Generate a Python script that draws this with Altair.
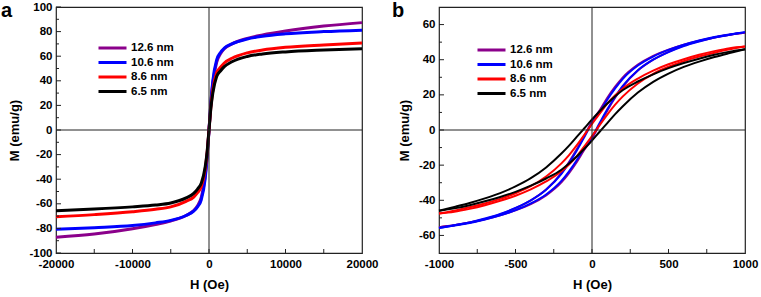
import altair as alt
import pandas as pd

FONT = "Liberation Sans"
SERIES = ["12.6 nm", "10.6 nm", "8.6 nm", "6.5 nm"]
COLORS = ["#8B008B", "#0000FF", "#FF0000", "#000000"]

# ---------------- panel a data ----------------
H_A = [-20000, -15000, -10000, -7000, -5000, -3000, -2000, -1500, -1000, -500, -250, 0,
       250, 500, 1000, 1500, 2000, 3000, 5000, 7000, 10000, 15000, 20000]
M_A_126 = [-87.2, -84.6, -80.3, -76.8, -74.0, -69.5, -65.5, -61.5, -54.5, -37.5, -21.5, 0,
           22, 38, 55, 62, 66, 70, 74.5, 77.3, 80.5, 84.5, 87.3]
M_A_106 = [-80.7, -79.4, -77.7, -75.5, -73.5, -69.5, -66.0, -62.5, -56.5, -39.5, -22.5, 0,
           23, 40, 57, 63, 66.5, 70, 74, 76.2, 78.2, 80, 81.2]
M_A_86 = [-70.5, -68.8, -66.5, -64.5, -62.5, -58.0, -54.5, -51.0, -46.0, -32.0, -19.0, 0,
          19, 32.5, 46.5, 51, 54.5, 58.3, 62.7, 65, 67.2, 69.2, 70.8]
M_A_65 = [-65.6, -64.3, -62.5, -61.0, -59.3, -55.2, -51.5, -48.0, -43.0, -30.0, -18.0, 0,
          18, 30, 43.5, 48, 51.5, 55.5, 59.8, 61.8, 63.5, 65, 66]

# ---------------- panel b data (descending / ascending branches) ----------------
H_B = [-1000, -900, -800, -700, -600, -500, -400, -300, -200, -150, -100, -50, 0,
       50, 100, 150, 200, 300, 400, 500, 600, 700, 800, 900, 1000]
B126_DOWN = [-55.3, -54.2, -52.7, -50.6, -48.0, -44.5, -40.0, -33.8, -24.5, -18.2, -11.0, -3.2, 4.8,
             11.2, 18.3, 24.5, 29.8, 37.2, 42.2, 45.7, 48.5, 50.8, 52.7, 54.2, 55.3]
B126_UP = [-55.3, -54.2, -52.7, -50.8, -48.5, -45.7, -42.2, -37.2, -29.8, -24.5, -18.3, -11.2, -4.8,
           3.2, 11.0, 18.2, 24.5, 33.8, 40.0, 44.5, 48.0, 50.6, 52.7, 54.2, 55.3]
B106_DOWN = [-55.8, -54.2, -52.6, -50.4, -47.8, -44.3, -40.0, -34.0, -25.0, -18.8, -11.8, -4.0, 4.0,
             10.0, 17.2, 23.5, 29.0, 36.7, 41.8, 45.6, 48.6, 51.0, 53.0, 54.4, 55.8]
B106_UP = [-55.8, -54.4, -53.0, -51.0, -48.6, -45.6, -41.8, -36.7, -29.0, -23.5, -17.2, -10.0, -4.0,
           4.0, 11.8, 18.8, 25.0, 34.0, 40.0, 44.3, 47.8, 50.4, 52.6, 54.2, 55.8]
B86_DOWN = [-47.5, -45.9, -44.0, -41.8, -39.2, -36.0, -32.0, -26.5, -19.0, -14.3, -8.8, -2.8, 3.5,
            9.3, 15.0, 19.6, 23.5, 29.3, 33.8, 37.4, 40.3, 42.8, 44.9, 46.6, 47.5]
B86_UP = [-47.5, -46.6, -44.9, -42.8, -40.3, -37.4, -33.8, -29.3, -23.5, -19.6, -15.0, -9.3, -3.5,
          2.8, 8.8, 14.3, 19.0, 26.5, 32.0, 36.0, 39.2, 41.8, 44.0, 45.9, 47.5]
B65_DOWN = [-46.0, -43.8, -41.5, -38.9, -35.9, -32.1, -27.4, -21.3, -13.4, -8.9, -3.9, 1.0, 6.0,
            10.7, 15.1, 19.1, 22.6, 27.6, 31.7, 35.2, 38.1, 40.6, 42.8, 44.6, 46.0]
B65_UP = [-46.0, -44.6, -42.8, -40.6, -38.1, -35.2, -31.7, -27.6, -22.6, -19.1, -15.1, -10.7, -6.0,
          -1.0, 3.9, 8.9, 13.4, 21.3, 27.4, 32.1, 35.9, 38.9, 41.5, 43.8, 46.0]

# ticks / labels
XA_LABELS = [-20000, -10000, 0, 10000, 20000]
XA_TICKS = [-15000, -10000, -5000, 0, 5000, 10000, 15000]
YA_LABELS = [-100, -80, -60, -40, -20, 0, 20, 40, 60, 80, 100]
YA_MINOR = [-90, -70, -50, -30, -10, 10, 30, 50, 70, 90]
XB_LABELS = [-1000, -500, 0, 500, 1000]
XB_TICKS = [-750, -500, -250, 0, 250, 500, 750]
YB_LABELS = [-60, -40, -20, 0, 20, 40, 60]
YB_MINOR = [-50, -30, -10, 10, 30, 50]

W, HGT = 306, 246

rows = []
for name, vals in zip(SERIES, [M_A_126, M_A_106, M_A_86, M_A_65]):
    for h, m in zip(H_A, vals):
        rows.append({"H": h, "M": m, "series": name, "branch": name + "d"})
df_a = pd.DataFrame(rows)

rows = []
for name, down, up in zip(SERIES, [B126_DOWN, B106_DOWN, B86_DOWN, B65_DOWN],
                          [B126_UP, B106_UP, B86_UP, B65_UP]):
    for h, m in zip(H_B, down):
        rows.append({"H": h, "M": m, "series": name, "branch": name + "d"})
    for h, m in zip(H_B, up):
        rows.append({"H": h, "M": m, "series": name, "branch": name + "u"})
df_b = pd.DataFrame(rows)

LBL = "'' + datum.value"


def panel(df, xdom, ydom, xlabels, xticks, ylabels, yminor, letter, lw, legx, legy, letter_x):
    xs = alt.Scale(domain=xdom, nice=False, zero=False)
    ys = alt.Scale(domain=ydom, nice=False, zero=False)
    xaxis = alt.Axis(values=xlabels, labelExpr=LBL, ticks=False, domain=False, grid=False,
                     labelFont=FONT, labelFontSize=11.5, labelFontWeight="bold", labelColor="#000",
                     labelPadding=5, labelOverlap=False, title="H (Oe)", titleFont=FONT,
                     titleFontSize=13, titleFontWeight="bold", titleColor="#000",
                     titlePadding=9, labelFlush=False)
    yaxis = alt.Axis(values=ylabels, labelExpr=LBL, ticks=False, domain=False, grid=False,
                     labelFont=FONT, labelFontSize=11.5, labelFontWeight="bold", labelColor="#000",
                     labelPadding=4, labelOverlap=False, title="M (emu/g)", titleFont=FONT,
                     titleFontSize=13, titleFontWeight="bold", titleColor="#000",
                     titlePadding=7, labelFlush=False)
    lines = alt.Chart(df).mark_line(strokeWidth=lw, interpolate="monotone").encode(
        x=alt.X("H:Q", scale=xs, axis=xaxis),
        y=alt.Y("M:Q", scale=ys, axis=yaxis),
        color=alt.Color("series:N", scale=alt.Scale(domain=SERIES, range=COLORS),
                        legend=alt.Legend(orient="none", legendX=legx, legendY=legy, title=None,
                                          symbolType="stroke", symbolSize=784,
                                          symbolStrokeWidth=3, labelFont=FONT,
                                          labelFontSize=11.5, labelFontWeight="bold",
                                          labelColor="#000", clipHeight=14, rowPadding=0.5,
                                          labelOffset=3, padding=0)),
        detail="branch:N",
        order=alt.Order("H:Q"),
    )
    zx = alt.Chart(pd.DataFrame({"H": [0]})).mark_rule(color="#222", strokeWidth=1).encode(
        x=alt.X("H:Q", scale=xs, axis=xaxis))
    zy = alt.Chart(pd.DataFrame({"M": [0]})).mark_rule(color="#222", strokeWidth=1).encode(
        y=alt.Y("M:Q", scale=ys, axis=yaxis))
    xt = alt.Chart(pd.DataFrame({"H": xticks})).mark_rule(color="#222", strokeWidth=1).encode(
        x=alt.X("H:Q", scale=xs, axis=xaxis), y=alt.value(HGT), y2=alt.value(HGT - 4))
    yt = alt.Chart(pd.DataFrame({"M": ylabels})).mark_rule(color="#222", strokeWidth=1).encode(
        y=alt.Y("M:Q", scale=ys, axis=yaxis), x=alt.value(0), x2=alt.value(5))
    ym = alt.Chart(pd.DataFrame({"M": yminor})).mark_rule(color="#222", strokeWidth=1).encode(
        y=alt.Y("M:Q", scale=ys, axis=yaxis), x=alt.value(0), x2=alt.value(3))
    lab = alt.Chart(pd.DataFrame({"t": [letter]})).mark_text(
        font=FONT, fontSize=20, fontWeight="bold", align="left", baseline="alphabetic",
        color="#000").encode(text="t:N", x=alt.value(letter_x), y=alt.value(10))
    return alt.layer(lines, zx, zy, xt, yt, ym, lab).properties(width=W, height=HGT)


pa = panel(df_a, [-20000, 20000], [-100, 100], XA_LABELS, XA_TICKS, YA_LABELS, YA_MINOR,
           "a", 3, 41, 34, -55)
pb = panel(df_b, [-1000, 1000], [-70, 70], XB_LABELS, XB_TICKS, YB_LABELS, YB_MINOR,
           "b", 2, 37, 36, -47)

chart = alt.hconcat(pa, pb, spacing=12).resolve_scale(color="independent").resolve_legend(
    color="independent").properties(padding={"left": 0, "top": 0, "right": 0, "bottom": 0}
).configure_view(stroke="#222", strokeWidth=1.2)

chart.save("out.html", embed_options={"renderer": "svg", "actions": False})
